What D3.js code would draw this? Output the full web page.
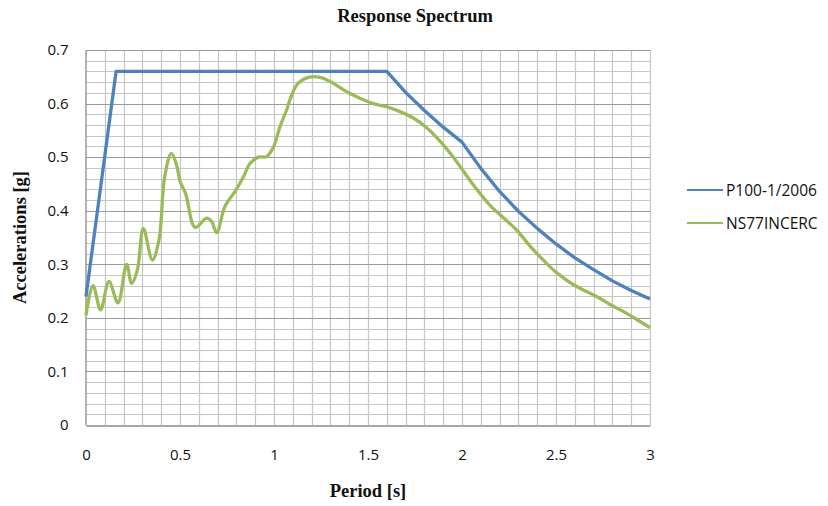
<!DOCTYPE html>
<html>
<head>
<meta charset="utf-8">
<script src="https://cdn.jsdelivr.net/npm/d3@7"></script>
<style>
  html, body { margin: 0; padding: 0; background: #fff; }
  svg { display: block; }
</style>
</head>
<body>
<svg id="chart" width="828" height="506"></svg>
<script>
// ---- Data ----
const seriesNames = ["P100-1/2006", "NS77INCERC"];
const p100Period = [0, 0.16, 1.6, 1.7, 1.8, 1.9, 2.0, 2.1, 2.2, 2.3, 2.4, 2.5, 2.6, 2.7, 2.8, 2.9, 3.0];
const p100Accel  = [0.24, 0.66, 0.66, 0.621, 0.587, 0.556, 0.528, 0.479, 0.436, 0.399, 0.367, 0.338, 0.312, 0.290, 0.269, 0.251, 0.235];
const nsPeriod = [0, 0.037, 0.078, 0.122, 0.17, 0.216, 0.243, 0.273, 0.305, 0.353, 0.388, 0.418, 0.454, 0.482, 0.5, 0.53, 0.58, 0.642, 0.668, 0.695, 0.739, 0.793, 0.837, 0.872, 0.917, 0.961, 0.996, 1.032, 1.067, 1.094, 1.129, 1.183, 1.245, 1.3, 1.387, 1.457, 1.528, 1.6, 1.67, 1.741, 1.812, 1.883, 1.954, 2.007, 2.078, 2.149, 2.22, 2.29, 2.362, 2.432, 2.504, 2.574, 2.645, 2.716, 2.787, 2.858, 2.929, 3.0];
const nsAccel  = [0.205, 0.26, 0.215, 0.268, 0.228, 0.30, 0.264, 0.289, 0.367, 0.308, 0.345, 0.462, 0.507, 0.485, 0.455, 0.432, 0.369, 0.386, 0.38, 0.359, 0.408, 0.436, 0.463, 0.488, 0.50, 0.501, 0.518, 0.557, 0.588, 0.616, 0.638, 0.649, 0.649, 0.641, 0.622, 0.61, 0.60, 0.594, 0.585, 0.573, 0.555, 0.530, 0.500, 0.474, 0.440, 0.410, 0.387, 0.364, 0.334, 0.308, 0.284, 0.266, 0.252, 0.240, 0.225, 0.212, 0.197, 0.182];
const xTicks = [0, 0.5, 1, 1.5, 2, 2.5, 3];
const yTicks = [0, 0.1, 0.2, 0.3, 0.4, 0.5, 0.6, 0.7];
const xTickLabels = ["0", "0.5", "1", "1.5", "2", "2.5", "3"];
const yTickLabels = ["0", "0.1", "0.2", "0.3", "0.4", "0.5", "0.6", "0.7"];

// ---- Layout ----
const pLeft = 86, pRight = 650, pTop = 50, pBottom = 425;
const svg = d3.select("#chart");
const x = d3.scaleLinear().domain([0, 3]).range([pLeft, pRight]);
const y = d3.scaleLinear().domain([0, 0.7]).range([pBottom, pTop]);

const sans = "'Open Sans', 'Noto Sans', sans-serif";
const serif = "'Liberation Serif', 'DejaVu Serif', serif";

// Minor grid
const g = svg.append("g");
const minorX = d3.range(1, 30).map(i => i / 10);
const minorY = d3.range(1, 35).map(i => i / 50).filter(v => Math.abs(v * 10 - Math.round(v * 10)) > 1e-6);
g.selectAll("line.mx").data(minorX).enter().append("line")
  .attr("x1", d => Math.round(x(d)) + 0.5).attr("x2", d => Math.round(x(d)) + 0.5)
  .attr("y1", pTop).attr("y2", pBottom)
  .attr("stroke", "#c6c6c6").attr("stroke-width", 1.2);
g.selectAll("line.my").data(minorY).enter().append("line")
  .attr("x1", pLeft).attr("x2", pRight)
  .attr("y1", d => Math.round(y(d)) + 0.5).attr("y2", d => Math.round(y(d)) + 0.5)
  .attr("stroke", "#c6c6c6").attr("stroke-width", 1.2);
// Major horizontal grid
g.selectAll("line.My").data(yTicks.slice(1)).enter().append("line")
  .attr("x1", pLeft).attr("x2", pRight)
  .attr("y1", d => Math.round(y(d)) + 0.5).attr("y2", d => Math.round(y(d)) + 0.5)
  .attr("stroke", "#9a9a9a").attr("stroke-width", 1.2);
// Right border
g.append("line").attr("x1", pRight + 0.5).attr("x2", pRight + 0.5).attr("y1", pTop).attr("y2", pBottom)
  .attr("stroke", "#c6c6c6").attr("stroke-width", 1.2);

// Axes
const xAxis = d3.axisBottom(x).tickValues(xTicks).tickSize(0).tickPadding(24)
  .tickFormat((d, i) => xTickLabels[i]);
const yAxis = d3.axisLeft(y).tickValues(yTicks).tickSize(0).tickPadding(17)
  .tickFormat((d, i) => yTickLabels[i]);
const gx = svg.append("g").attr("transform", `translate(0,${pBottom + 0.5})`).call(xAxis);
const gy = svg.append("g").attr("transform", `translate(${pLeft - 0.5},0)`).call(yAxis);
[gx, gy].forEach(a => {
  a.select(".domain").attr("stroke", "#8a8a8a").attr("stroke-width", 1.3);
  a.selectAll("text").attr("font-family", sans).attr("font-size", 15).attr("fill", "#111");
});

// Lines
const lineLinear = d3.line().x(d => x(d[0])).y(d => y(d[1]));
const lineSmooth = d3.line().x(d => x(d[0])).y(d => y(d[1])).curve(d3.curveCatmullRom.alpha(0.5));
const p100 = p100Period.map((t, i) => [t, p100Accel[i]]);
const ns = nsPeriod.map((t, i) => [t, nsAccel[i]]);
svg.append("path").datum(ns).attr("d", lineSmooth)
  .attr("fill", "none").attr("stroke", "#9BBB59").attr("stroke-width", 3.3).attr("stroke-linejoin", "round");
svg.append("path").datum(p100).attr("d", lineLinear)
  .attr("fill", "none").attr("stroke", "#4F81BD").attr("stroke-width", 3.3).attr("stroke-linejoin", "round");

// Titles
svg.append("text").attr("x", 415).attr("y", 22).attr("text-anchor", "middle")
  .attr("font-family", serif).attr("font-weight", "bold").attr("font-size", 18.5).attr("fill", "#111")
  .text("Response Spectrum");
svg.append("text").attr("x", 368).attr("y", 497).attr("text-anchor", "middle")
  .attr("font-family", serif).attr("font-weight", "bold").attr("font-size", 18.5).attr("fill", "#111")
  .text("Period [s]");
svg.append("text").attr("transform", `translate(26,${(pTop + pBottom) / 2}) rotate(-90)`)
  .attr("text-anchor", "middle")
  .attr("font-family", serif).attr("font-weight", "bold").attr("font-size", 18.5).attr("fill", "#111")
  .text("Accelerations [g]");

// Legend
const legendColors = ["#4F81BD", "#9BBB59"];
const leg = svg.append("g");
seriesNames.forEach((name, i) => {
  const ly = 190 + i * 33;
  leg.append("line").attr("x1", 687).attr("x2", 723).attr("y1", ly).attr("y2", ly)
    .attr("stroke", legendColors[i]).attr("stroke-width", 2.2);
  leg.append("text").attr("x", 726).attr("y", ly + 5.5)
    .attr("font-family", sans).attr("font-size", 15.5).attr("fill", "#111").text(name);
});
</script>
</body>
</html>
